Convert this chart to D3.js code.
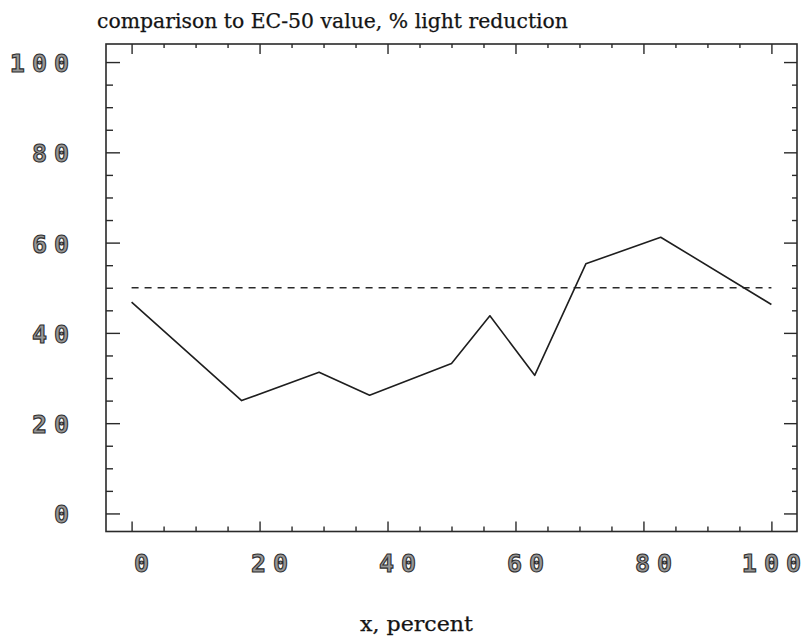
<!DOCTYPE html>
<html>
<head>
<meta charset="utf-8">
<script src="https://cdn.jsdelivr.net/npm/d3@7"></script>
<style>
  body { margin: 0; background: #fff; }
  .digits { font-family: "DejaVu Sans Mono", monospace; font-weight: bold; font-size: 25px;
            fill: #979797; stroke: #2e2e2e; stroke-width: 1.1px; }
  .serif { font-family: "DejaVu Serif", serif; fill: #141414; stroke: #141414; stroke-width: 0.25px; }
</style>
</head>
<body>
<svg id="chart" width="802" height="644"></svg>
<script>
// Measured light reduction (%) against concentration x (%)
const xValues        = [0, 17.2, 29.3, 37.2, 50.0, 56.0, 63.0, 71.0, 82.7, 100];
const lightReduction = [46.8, 25.0, 31.3, 26.2, 33.2, 43.8, 30.6, 55.3, 61.2, 46.3];

// EC-50 reference level, drawn across the measured range
const ec50Range = [0, 100];
const ec50Level = [50, 50];

const xTickLabels = ["0", "20", "40", "60", "80", "100"];
const yTickLabels = ["0", "20", "40", "60", "80", "100"];
const titleText  = "comparison to EC-50 value, % light reduction";
const xAxisTitle = "x, percent";

const svg = d3.select("#chart");
const frame = { left: 106, right: 797, top: 44, bottom: 531.5 };
const gap = 7; // extra space between plotter digits

const x = d3.scaleLinear().domain([-4, 104]).range([frame.left, frame.right]);
const y = d3.scaleLinear().domain([-4, 104]).range([frame.bottom, frame.top]);

const majors = xTickLabels.map(Number);
const minors = d3.range(0, 101, 5).filter(v => v % 20 !== 0);
const yMajors = yTickLabels.map(Number);

// inward ticks on all four sides of the frame
function tickGroup(axis, transform) {
  const g = svg.append("g").attr("transform", transform).call(axis);
  g.select(".domain").remove();
  g.selectAll("line").attr("stroke", "#2a2a2a").attr("stroke-width", 1.4);
  g.selectAll("text").remove();
  return g;
}
tickGroup(d3.axisBottom(x).tickValues(majors).tickSize(-10), `translate(0,${frame.bottom})`);
tickGroup(d3.axisBottom(x).tickValues(minors).tickSize(-5), `translate(0,${frame.bottom})`);
tickGroup(d3.axisTop(x).tickValues(majors).tickSize(-10), `translate(0,${frame.top})`);
tickGroup(d3.axisTop(x).tickValues(minors).tickSize(-4), `translate(0,${frame.top})`);
tickGroup(d3.axisLeft(y).tickValues(yMajors).tickSize(-14), `translate(${frame.left},0)`);
tickGroup(d3.axisLeft(y).tickValues(minors).tickSize(-7), `translate(${frame.left},0)`);
tickGroup(d3.axisRight(y).tickValues(yMajors).tickSize(-13), `translate(${frame.right},0)`);
tickGroup(d3.axisRight(y).tickValues(minors).tickSize(-5), `translate(${frame.right},0)`);

// plot frame
svg.append("rect")
  .attr("x", frame.left).attr("y", frame.top)
  .attr("width", frame.right - frame.left).attr("height", frame.bottom - frame.top)
  .attr("fill", "none").attr("stroke", "#2a2a2a").attr("stroke-width", 1.6);

// spacing only between characters, none after the last one
const charGaps = s => s.split("").map((c, i) => (i ? gap : 0)).join(" ");

// tick labels
svg.append("g").selectAll("text").data(yTickLabels).join("text")
  .attr("class", "digits")
  .attr("text-anchor", "end")
  .attr("x", 69)
  .attr("dx", charGaps)
  .attr("y", d => y(+d) + 10)
  .text(d => d);

svg.append("g").selectAll("text").data(xTickLabels).join("text")
  .attr("class", "digits")
  .attr("text-anchor", "middle")
  .attr("x", d => x(+d) + (d.length === 3 ? 0 : 10))
  .attr("dx", charGaps)
  .attr("y", 572)
  .text(d => d);

// EC-50 reference line
svg.append("path")
  .datum(d3.zip(ec50Range, ec50Level))
  .attr("fill", "none").attr("stroke", "#2a2a2a").attr("stroke-width", 1.5)
  .attr("stroke-dasharray", "7,6")
  .attr("d", d3.line().x(d => x(d[0])).y(d => y(d[1])));

// measured series
svg.append("path")
  .datum(d3.zip(xValues, lightReduction))
  .attr("fill", "none").attr("stroke", "#1e1e1e").attr("stroke-width", 1.6)
  .attr("stroke-linejoin", "round")
  .attr("d", d3.line().x(d => x(d[0])).y(d => y(d[1])));

// titles
svg.append("text").attr("class", "serif")
  .attr("x", 97).attr("y", 28).attr("font-size", 20)
  .attr("textLength", 471).attr("lengthAdjust", "spacingAndGlyphs")
  .text(titleText);

svg.append("text").attr("class", "serif")
  .attr("x", 360).attr("y", 631).attr("font-size", 20)
  .attr("textLength", 113).attr("lengthAdjust", "spacingAndGlyphs")
  .text(xAxisTitle);
</script>
</body>
</html>
